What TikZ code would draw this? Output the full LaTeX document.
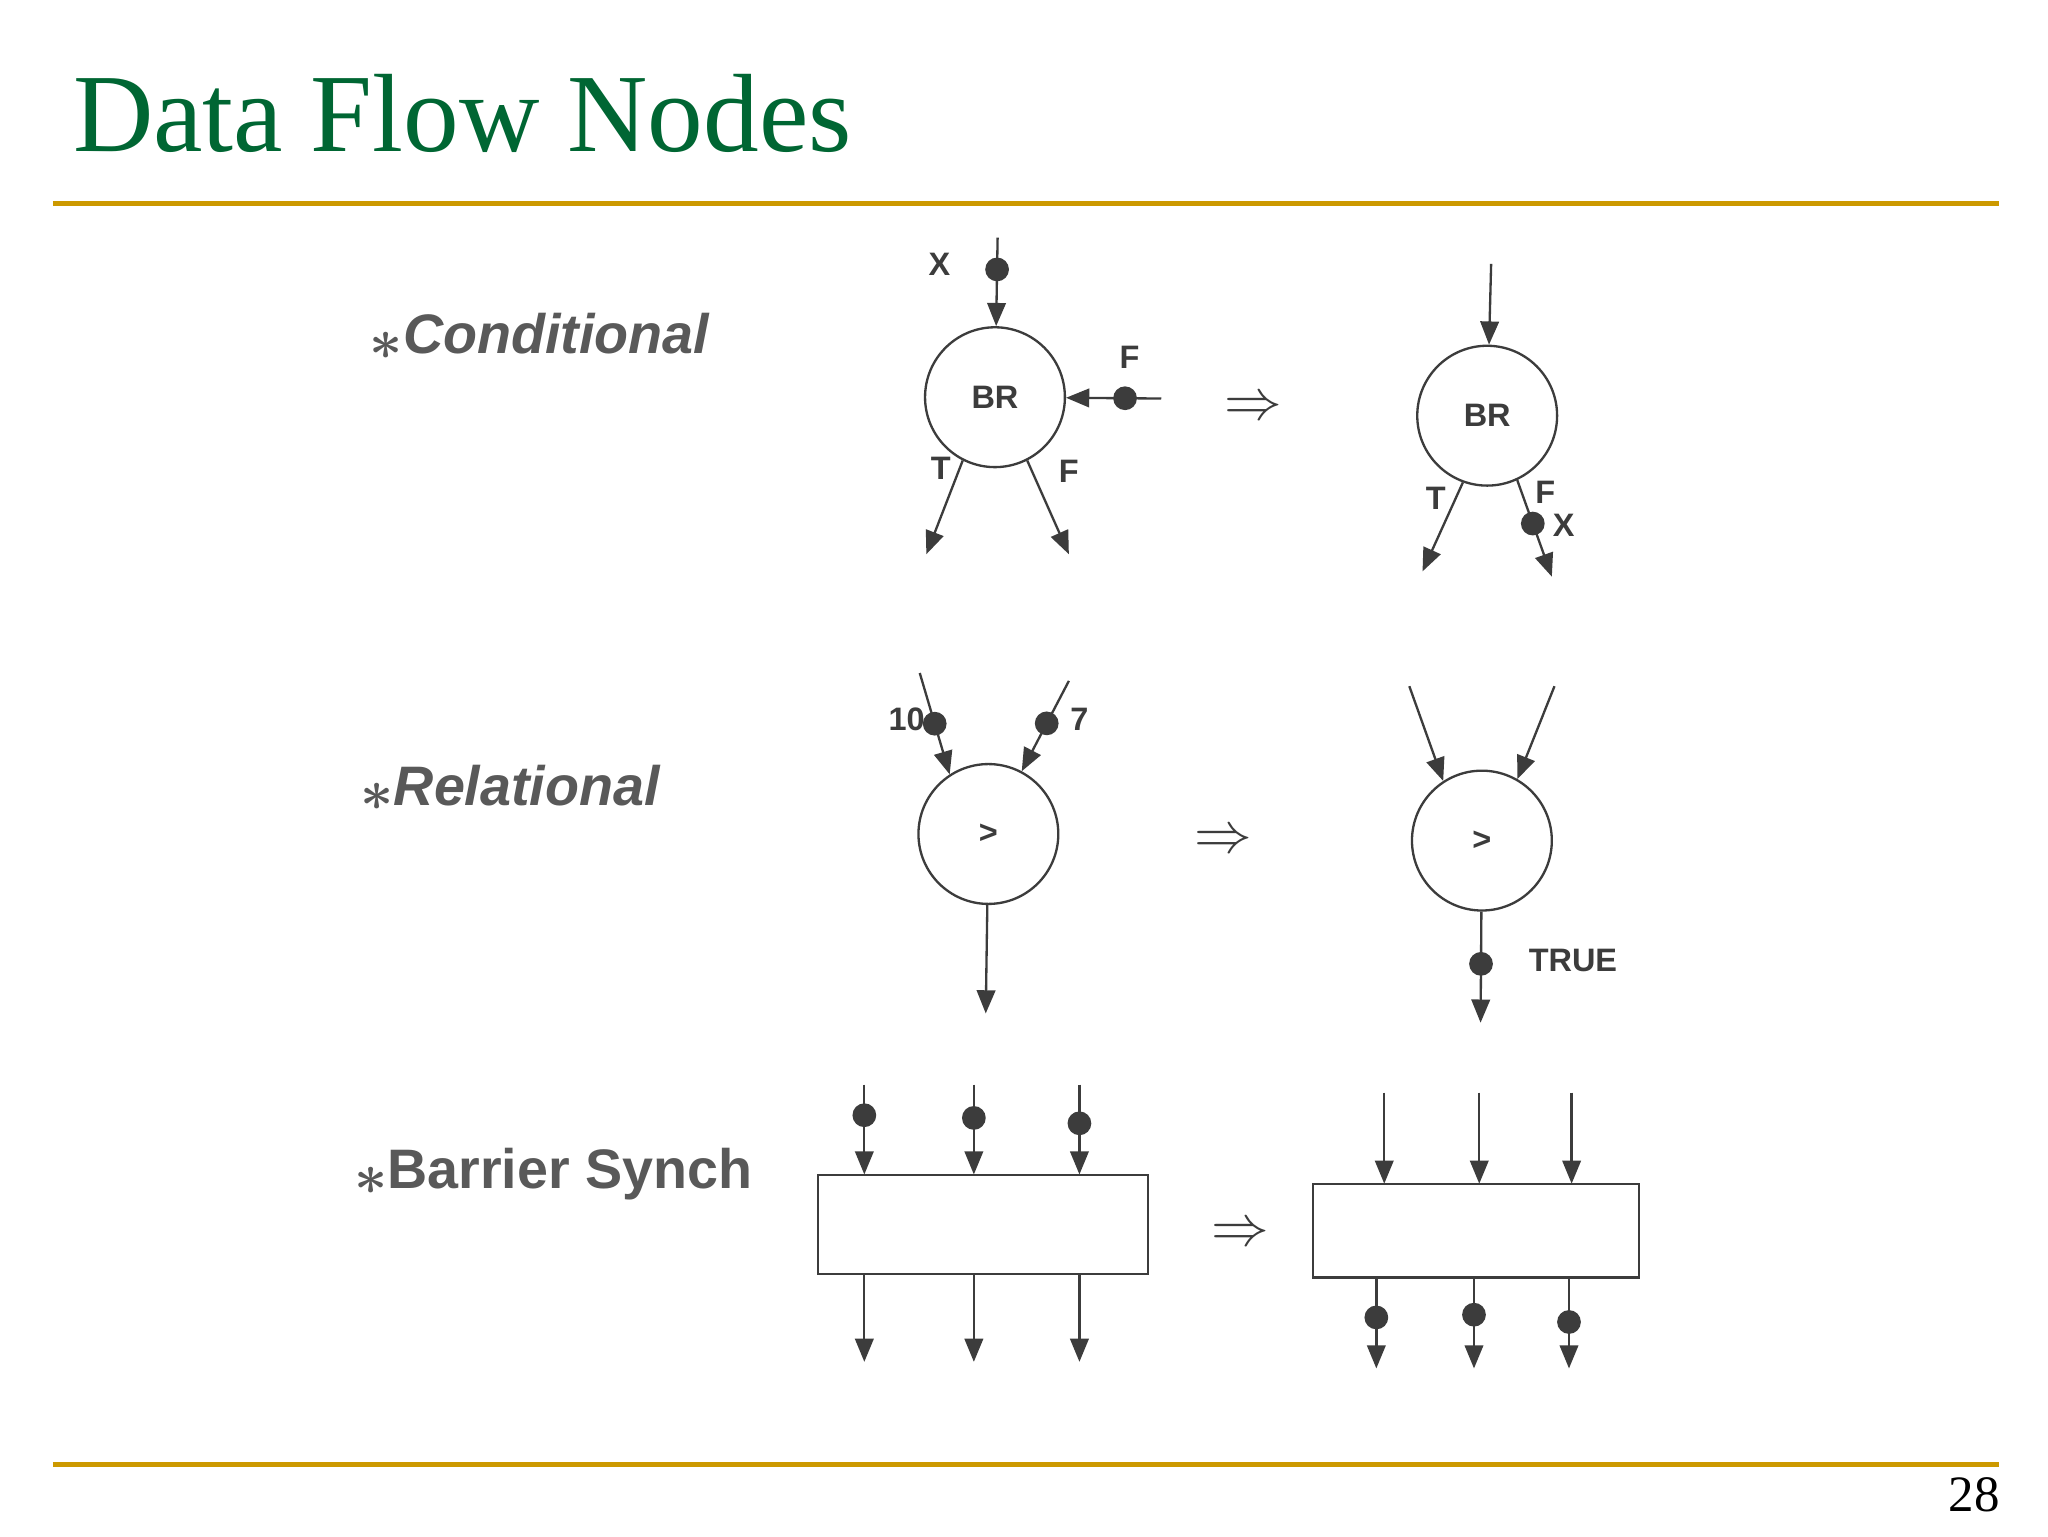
\documentclass[tikz,border=0pt]{standalone}
\usepackage{fontspec}
\setmainfont{Liberation Serif}
\newfontfamily\lsans{Liberation Sans}
\usetikzlibrary{arrows.meta}
\definecolor{ttl}{RGB}{0,102,51}
\definecolor{gold}{RGB}{204,153,0}
\definecolor{ink}{RGB}{60,60,60}
\newcommand{\myast}{\raisebox{-0.1em}{\fontsize{34}{34}\selectfont$\boldsymbol{\ast}$}}
\usepackage{amsmath,amssymb,bm}
\begin{document}
\begin{tikzpicture}[x=0.02cm,y=-0.02cm,
  arr/.style={draw=ink,line width=1pt,-{Triangle[length=10pt,width=8pt]}},
  dot/.style={circle,fill=ink,inner sep=0,minimum size=0.36cm},
  cir/.style={circle,draw=ink,line width=1pt,minimum size=2.12cm,inner sep=0,font=\lsans\bfseries\fontsize{14}{16}\selectfont,text=ink},
  lab/.style={font=\lsans\bfseries\fontsize{14}{16}\selectfont,text=ink,inner sep=1pt},
  sec/.style={font=\lsans\bfseries\fontsize{24}{28}\selectfont,text=ink!85,anchor=west,inner sep=0},
  imp/.style={font=\fontsize{26}{28}\selectfont,text=ink},
  box/.style={draw=ink,line width=1pt,minimum width=5cm,minimum height=1.5cm,inner sep=0}]
\useasboundingbox (0,0) rectangle (1552,1164);
\fill[white] (0,0) rectangle (1552,1164);
\node[anchor=base west,text=ttl,font=\fontsize{48}{52}\selectfont,inner sep=0] (title) at (55,115) {Data Flow Nodes};
\draw[gold,line width=2pt] (40,154) -- (1515,154);
\draw[gold,line width=2pt] (40,1110) -- (1515,1110);
\node[font=\fontsize{22}{26}\selectfont] (pg) at (1496,1133) {28};

\node[sec] (s1) at (280,255) {\myast\textit{Conditional}};
\node[sec] (s2) at (273,597) {\myast\textit{Relational}};
\node[sec] (s3) at (268,890) {\myast Barrier Synch};

% Conditional left
\node[cir] (br1) at (754,301) {BR};
\coordinate (a1) at (756,180);
\draw[arr] (a1) -- (br1) node[dot,pos=0.36] (d1) {};
\node[lab] (lx) at (712,200) {X};
\coordinate (a2) at (880,302);
\draw[arr] (a2) -- (br1) node[dot,pos=0.38] (d2) {};
\node[lab] (lf) at (856,271) {F};
\coordinate (o1) at (702,420);
\coordinate (o2) at (810,420);
\draw[arr] (br1.243) -- (o1);
\draw[arr] (br1.297) -- (o2);
\node[lab] (lt1) at (713,355) {T};
\node[lab] (lf1) at (810,357) {F};
\node[imp] (im1) at (950,310) {$\Rightarrow$};
% Conditional right
\node[cir] (br2) at (1127,315) {BR};
\coordinate (a3) at (1130,200);
\draw[arr] (a3) -- (br2);
\coordinate (o3) at (1078,433);
\coordinate (o4) at (1176,437);
\draw[arr] (br2.250) -- (o3);
\draw[arr] (br2.295) -- (o4) node[dot,pos=0.45] (d3) {};
\node[lab] (lt2) at (1088,378) {T};
\node[lab] (lf2) at (1171,373) {F};
\node[lab] (lx2) at (1185,398) {X};

% Relational left
\node[cir] (gt1) at (749,632) {\textgreater};
\coordinate (b1) at (697,510);
\coordinate (b2) at (810,516);
\draw[arr] (b1) -- (gt1.123) node[dot,pos=0.5] (d4) {};
\draw[arr] (b2) -- (gt1.62) node[dot,pos=0.47] (d5) {};
\node[lab] (l10) at (687,545) {10};
\node[lab] (l7) at (818,545) {7};
\coordinate (o5) at (747,768);
\draw[arr] (gt1) -- (o5);
\node[imp] (im2) at (927,638) {$\Rightarrow$};
% Relational right
\node[cir] (gt2) at (1123,637) {\textgreater};
\coordinate (b3) at (1068,520);
\coordinate (b4) at (1178,520);
\draw[arr] (b3) -- (gt2.123);
\draw[arr] (b4) -- (gt2.60);
\coordinate (o6) at (1122,775);
\draw[arr] (gt2) -- (o6) node[dot,pos=0.47] (d6) {};
\node[lab] (ltr) at (1192,728) {TRUE};

% Barrier left
\node[box] (bx1) at (745,928) {};
\foreach \x/\d in {655/0.34,738/0.37,818/0.43}{
  \coordinate (i\x) at (\x,822);
  \draw[arr] (i\x) -- (\x,890) node[dot,pos=\d] {};
  \coordinate (e\x) at (\x,1032);
  \draw[arr] (\x,965) -- (e\x);
}
\node[imp] (im3) at (940,936) {$\Rightarrow$};
% Barrier right
\node[box,minimum width=4.94cm,minimum height=1.42cm] (bx2) at (1118.5,932.5) {};
\foreach \x in {1049,1121,1191}{
  \coordinate (j\x) at (\x,828);
  \draw[arr] (j\x) -- (\x,897);
}
\foreach \x/\d in {1043/0.44,1117/0.41,1189/0.49}{
  \coordinate (f\x) at (\x,1037);
  \draw[arr] (\x,968) -- (f\x) node[dot,pos=\d] {};
}
\end{tikzpicture}
\end{document}
